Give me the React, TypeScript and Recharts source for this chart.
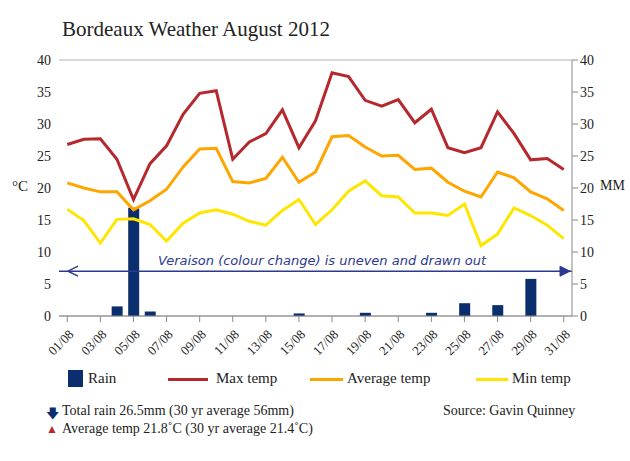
import React from 'react';
import { ComposedChart, Bar, Line, XAxis, YAxis, CartesianGrid, ReferenceLine } from 'recharts';

const days = Array.from({ length: 31 }, (_, i) => `${String(i + 1).padStart(2, '0')}/08`);
const maxTemp = [26.8, 27.6, 27.7, 24.5, 18.2, 23.8, 26.6, 31.5, 34.8, 35.2, 24.5, 27.2, 28.5, 32.2, 26.3, 30.5, 38, 37.4, 33.7, 32.8, 33.8, 30.2, 32.3, 26.3, 25.5, 26.3, 31.9, 28.5, 24.4, 24.6, 22.9];
const avgTemp = [20.8, 20, 19.4, 19.4, 16.6, 18, 19.8, 23.3, 26.1, 26.2, 21, 20.8, 21.5, 24.8, 20.9, 22.5, 28, 28.2, 26.4, 25, 25.1, 22.9, 23.1, 20.9, 19.5, 18.6, 22.5, 21.6, 19.4, 18.3, 16.5];
const minTemp = [16.7, 14.9, 11.4, 15.1, 15.2, 14.3, 11.7, 14.5, 16.1, 16.6, 15.9, 14.8, 14.2, 16.5, 18.2, 14.3, 16.6, 19.5, 21.1, 18.8, 18.6, 16.1, 16.1, 15.7, 17.5, 11.0, 12.8, 16.9, 15.7, 14.2, 12.1];
const rain = [0, 0, 0, 1.5, 16.9, 0.7, 0, 0, 0, 0, 0, 0, 0, 0, 0.4, 0, 0, 0, 0.5, 0, 0, 0, 0.5, 0, 2, 0, 1.7, 0, 5.8, 0, 0];
const ticks = [0, 5, 10, 15, 20, 25, 30, 35, 40];

const data = days.map((d, i) => ({ day: d, max: maxTemp[i], avg: avgTemp[i], min: minTemp[i], rain: rain[i] }));

const SERIF = 'Georgia, "Liberation Serif", serif';
const BLUE = '#0b2f6e';
const INK = '#2b3990';

const XTick = ({ x, y, payload }: any) => (
    <g transform={`translate(${x},${y + 4})`}>
        <text textAnchor="end" transform="rotate(-45)" dy={10} fontSize={13} fill="#222" fontFamily={SERIF}>{payload.value}</text>
    </g>
);

const Veraison = ({ viewBox }: any) => {
    const { y } = viewBox;
    const x1 = 68, x2 = 570;
    return (
        <g>
            <path d={`M${x1 + 10},${y - 5} L${x1},${y} L${x1 + 10},${y + 5}`} fill="none" stroke={INK} strokeWidth={1.5} />
            <path d={`M${x2 - 10},${y - 5} L${x2},${y} L${x2 - 10},${y + 5} Z`} fill={INK} stroke={INK} />
            <text x={158} y={y - 6} fontSize={13} fill={INK} fontFamily='"DejaVu Sans", sans-serif' fontStyle="italic">
                Veraison (colour change) is uneven and drawn out
            </text>
        </g>
    );
};

const lbl: React.CSSProperties = { position: 'absolute', fontSize: 15 };

export default function App() {
    return (
        <div style={{ position: 'absolute', left: 0, top: 0, width: 630, height: 461, background: '#fff', fontFamily: SERIF, color: '#222' }}>
            <div style={{ position: 'absolute', left: 62, top: 17, fontSize: 21 }}>Bordeaux Weather August 2012</div>
            <div style={{ ...lbl, left: 12, top: 178 }}>°C</div>
            <div style={{ ...lbl, left: 600, top: 178, fontSize: 14 }}>MM</div>
            <ComposedChart width={630} height={360} data={data} margin={{ top: 60, right: 0, left: 0, bottom: 0 }}>
                <CartesianGrid vertical={false} stroke="#b3b3b3" />
                <XAxis dataKey="day" interval={1} tick={<XTick />} height={44} stroke="#888" tickLine={{ stroke: '#888' }} />
                <YAxis yAxisId="t" domain={[0, 40]} ticks={ticks} width={59} axisLine={false} tickLine={false}
                    tick={{ fontSize: 14, fill: '#222', fontFamily: SERIF }} />
                <YAxis yAxisId="r" orientation="right" domain={[0, 40]} ticks={ticks} width={58} stroke="#888"
                    tick={{ fontSize: 14, fill: '#222', fontFamily: SERIF }} />
                <Bar yAxisId="r" dataKey="rain" fill={BLUE} barSize={11} isAnimationActive={false} />
                <Line yAxisId="t" dataKey="max" stroke="#b5292e" strokeWidth={3} dot={false} isAnimationActive={false} />
                <Line yAxisId="t" dataKey="avg" stroke="#ffa500" strokeWidth={3} dot={false} isAnimationActive={false} />
                <Line yAxisId="t" dataKey="min" stroke="#ffe600" strokeWidth={3} dot={false} isAnimationActive={false} />
                <ReferenceLine yAxisId="t" y={7} stroke={INK} strokeWidth={1.5} label={<Veraison />} />
            </ComposedChart>
            <div style={{ position: 'absolute', top: 370, left: 68, width: 15, height: 17, background: BLUE }} />
            <div style={{ ...lbl, top: 370, left: 88 }}>Rain</div>
            <div style={{ position: 'absolute', top: 378, left: 168, width: 40, height: 3, background: '#b5292e' }} />
            <div style={{ ...lbl, top: 370, left: 216 }}>Max temp</div>
            <div style={{ position: 'absolute', top: 378, left: 310, width: 33, height: 3, background: '#ffa500' }} />
            <div style={{ ...lbl, top: 370, left: 347 }}>Average temp</div>
            <div style={{ position: 'absolute', top: 378, left: 476, width: 32, height: 3, background: '#ffe600' }} />
            <div style={{ ...lbl, top: 370, left: 512 }}>Min temp</div>
            <div style={{ position: 'absolute', top: 404, left: 46, fontSize: 13, color: BLUE }}>🡇</div>
            <div style={{ ...lbl, top: 403, left: 62, fontSize: 14 }}>Total rain 26.5mm (30 yr average 56mm)</div>
            <div style={{ position: 'absolute', top: 422, left: 46, fontSize: 12, color: '#b5292e' }}>▲</div>
            <div style={{ ...lbl, top: 421, left: 62, fontSize: 14 }}>Average temp 21.8˚C (30 yr average 21.4˚C)</div>
            <div style={{ ...lbl, top: 403, left: 443, fontSize: 14 }}>Source: Gavin Quinney</div>
        </div>
    );
}
